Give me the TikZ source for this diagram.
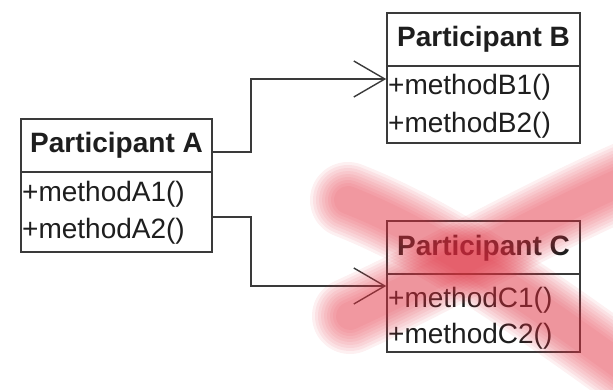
\documentclass[tikz,border=0pt]{standalone}
\usepackage{fontspec}
\setmainfont{Liberation Sans}
\usetikzlibrary{arrows.meta}

\definecolor{umlline}{HTML}{3A3A3A}
\definecolor{umltext}{HTML}{1E1E1E}
\definecolor{crossred}{RGB}{228,50,66}

\tikzset{
  classpart/.style={draw=umlline, line width=1.6pt, fill=white, rectangle,
    inner sep=0pt, minimum width=#1},
  classtitle/.style={anchor=base, inner sep=0pt, text=umltext,
    font=\bfseries\fontsize{28}{32}\selectfont},
  methodtxt/.style={anchor=base west, inner sep=0pt, text=umltext,
    font=\fontsize{28}{32}\selectfont},
  callline/.style={draw=umlline, line width=1.4pt,
    -{Straight Barb[length=31pt, width=36pt, line width=1.4pt]}},
  brush/.style={draw=crossred, line cap=round, draw opacity=0.075, line width=#1},
}

\begin{document}
\begin{tikzpicture}[x=1pt, y=-1pt]
\useasboundingbox (0,0) rectangle (613,390);

% Participant A
\node[classpart=191pt, minimum height=53pt] (Ahead) at (116.5,145.5) {};
\node[classpart=191pt, minimum height=80pt] (Abody) at (116.5,212) {};
\node[classtitle] (Atitle) at (116.5,153) {Participant A};
\node[methodtxt] (A1) at (22,202) {+methodA1()};
\node[methodtxt] (A2) at (22,239) {+methodA2()};

% Participant B
\node[classpart=193pt, minimum height=53pt] (Bhead) at (483.5,39.5) {};
\node[classpart=193pt, minimum height=77pt] (Bbody) at (483.5,104.5) {};
\node[classtitle] (Btitle) at (483.5,47) {Participant B};
\node[methodtxt] (B1) at (388,95) {+methodB1()};
\node[methodtxt] (B2) at (388,133) {+methodB2()};

% Participant C
\node[classpart=193pt, minimum height=53pt] (Chead) at (483.5,247.5) {};
\node[classpart=193pt, minimum height=78pt] (Cbody) at (483.5,313) {};
\node[classtitle] (Ctitle) at (483.5,255) {Participant C};
\node[methodtxt] (C1) at (388,307) {+methodC1()};
\node[methodtxt] (C2) at (388,343) {+methodC2()};

% calls from A
\draw[callline] ([yshift=-6.5pt]Ahead.east) -- ++(38,0) |- ([yshift=25.5pt]Bbody.west);
\draw[callline] ([yshift=-5pt]Abody.east) -- ++(38,0) |- ([yshift=27pt]Cbody.west);

% soft red brush cross over C
\foreach \w in {76,70,64,58,52,46,40,34,28} {
  \draw[brush=\w pt] (348,200) .. controls (430,232) and (520,292) .. (630,372);
  \draw[brush=\w pt] (630,178) .. controls (530,222) and (440,275) .. (350,316);
}
\end{tikzpicture}
\end{document}
